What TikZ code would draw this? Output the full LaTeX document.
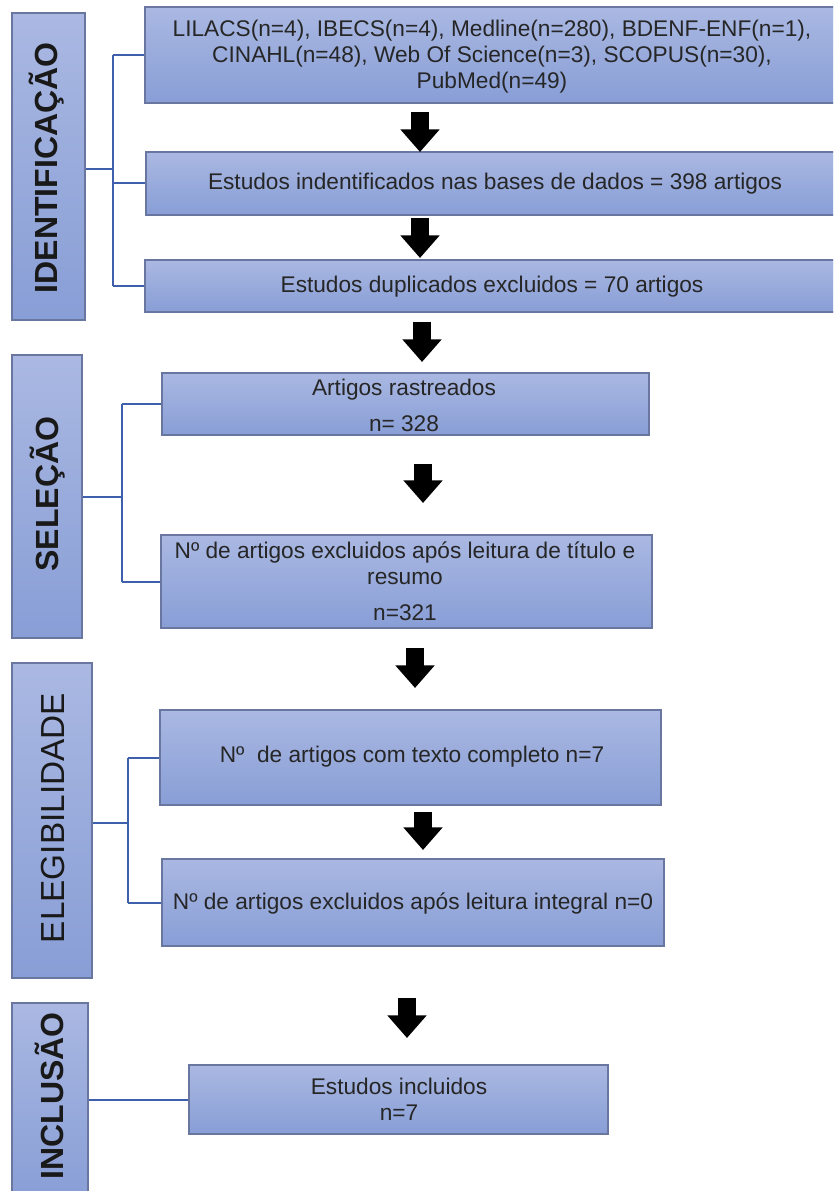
\documentclass[tikz,border=0pt]{standalone}
\usepackage{fontspec}
\setmainfont{Liberation Sans}
\usetikzlibrary{arrows.meta,fit,shadows}
\definecolor{boxtop}{RGB}{170,184,226}
\definecolor{boxbot}{RGB}{136,158,214}
\definecolor{boxline}{RGB}{105,118,160}
\definecolor{brk}{RGB}{62,96,172}
\tikzset{
  stagebox/.style={draw=boxline, line width=0.9pt, top color=boxtop, bottom color=boxbot, inner sep=0pt,
    drop shadow={shadow xshift=0.8pt, shadow yshift=-0.8pt, opacity=0.25}},
  sidebox/.style={draw=boxline, line width=0.9pt, top color=boxtop, bottom color=boxbot, inner sep=0pt},
  txt/.style={align=center, font=\fontsize{17}{19.5}\selectfont, inner sep=0pt, text=black!85},
  side/.style={rotate=90, anchor=base, inner sep=0pt, font=\fontsize{24}{24}\selectfont\bfseries, text=black!90},
  sidereg/.style={rotate=90, anchor=base, inner sep=0pt, font=\fontsize{25}{25}\selectfont, text=black!90},
  bracket/.style={draw=brk, line width=1.5pt},
  bigarrow/.style={line width=14pt, -{Triangle[width=28.5pt,length=17pt]}}
}
\begin{document}
\begin{tikzpicture}[x=0.75pt, y=-0.75pt]
\clip (0,0) rectangle (833,1191);
\path[use as bounding box] (0,0) rectangle (833,1191);

% side boxes
\node[sidebox, fit={(12,13)(85,320)}] (id) {};
\node[sidebox, fit={(12,355)(82,638)}] (sel) {};
\node[sidebox, fit={(12,663)(92,978)}] (ele) {};
\node[sidebox, fit={(12,1003)(88,1200)}] (inc) {};
\node[side] (idt) at (57,168) {IDENTIFICAÇÃO};
\node[side] (selt) at (58,494) {SELEÇÃO};
\node[sidereg] (elet) at (64,818) {ELEGIBILIDADE};
\node[side] (inct) at (63,1096) {INCLUSÃO};

% content boxes
\node[stagebox, fit={(145,7)(840,103)}] (b1) {};
\node[stagebox, fit={(146,152)(840,215)}] (b2) {};
\node[stagebox, fit={(145,260)(840,312)}] (b3) {};
\node[stagebox, fit={(162,373)(649,435)}] (b4) {};
\node[stagebox, fit={(161,535)(652,628)}] (b5) {};
\node[stagebox, fit={(160,710)(661,805)}] (b6) {};
\node[stagebox, fit={(162,859)(664,946)}] (b7) {};
\node[stagebox, fit={(189,1065)(608,1134)}] (b8) {};

\node[txt] (t1) at (492,57) {LILACS(n=4), IBECS(n=4), Medline(n=280), BDENF-ENF(n=1),\\CINAHL(n=48), Web Of Science(n=3), SCOPUS(n=30),\\PubMed(n=49)};
\node[txt] (t2) at (495,184) {Estudos indentificados nas bases de dados = 398 artigos};
\node[txt] (t3) at (492,287) {Estudos duplicados excluidos = 70 artigos};
\node[txt] (t4) at (404,405) {Artigos rastreados\\[7.5pt]n= 328};
\node[txt] (t5) at (405,581) {Nº de artigos excluidos após leitura de título e\\resumo\\[7.5pt]n=321};
\node[txt] (t6) at (412,757) {Nº~ de artigos com texto completo n=7};
\node[txt] (t7) at (413,903) {Nº de artigos excluidos após leitura integral n=0};
\node[txt] (t8) at (399,1099) {Estudos incluidos\\n=7};

% brackets
\coordinate (idj) at (113,169);
\draw[bracket, line width=2.2pt] (id.east |- idj) -- (idj);
\draw[bracket] (idj |- b1.west) -- (idj |- b3.west);
\draw[bracket] (idj |- b1.west) -- (b1.west);
\draw[bracket] (idj |- b2.west) -- (b2.west);
\draw[bracket] (idj |- b3.west) -- (b3.west);

\coordinate (selj) at (122,497);
\draw[bracket] (sel.east |- selj) -- (selj);
\draw[bracket] (selj |- b4.west) -- (selj |- b5.west);
\draw[bracket] (selj |- b4.west) -- (b4.west);
\draw[bracket] (selj |- b5.west) -- (b5.west);

\coordinate (elej) at (128,823);
\draw[bracket] (ele.east |- elej) -- (elej);
\draw[bracket] (elej |- b6.west) -- (elej |- b7.west);
\draw[bracket] (elej |- b6.west) -- (b6.west);
\draw[bracket] (elej |- b7.west) -- (b7.west);

\draw[bracket] (inc.east |- b8.west) -- (b8.west);

% arrows
\coordinate (a1s) at (420,112); \coordinate (a1e) at (420,152);
\coordinate (a2s) at (420,218); \coordinate (a2e) at (420,258);
\coordinate (a3s) at (422,322); \coordinate (a3e) at (422,362);
\coordinate (a4s) at (423,464); \coordinate (a4e) at (423,503);
\coordinate (a5s) at (415,648); \coordinate (a5e) at (415,688);
\coordinate (a6s) at (423,812); \coordinate (a6e) at (423,850);
\coordinate (a7s) at (407,998); \coordinate (a7e) at (407,1038);
\foreach \i in {1,...,7} { \draw[bigarrow] (a\i s) -- (a\i e); }
\end{tikzpicture}
\end{document}
